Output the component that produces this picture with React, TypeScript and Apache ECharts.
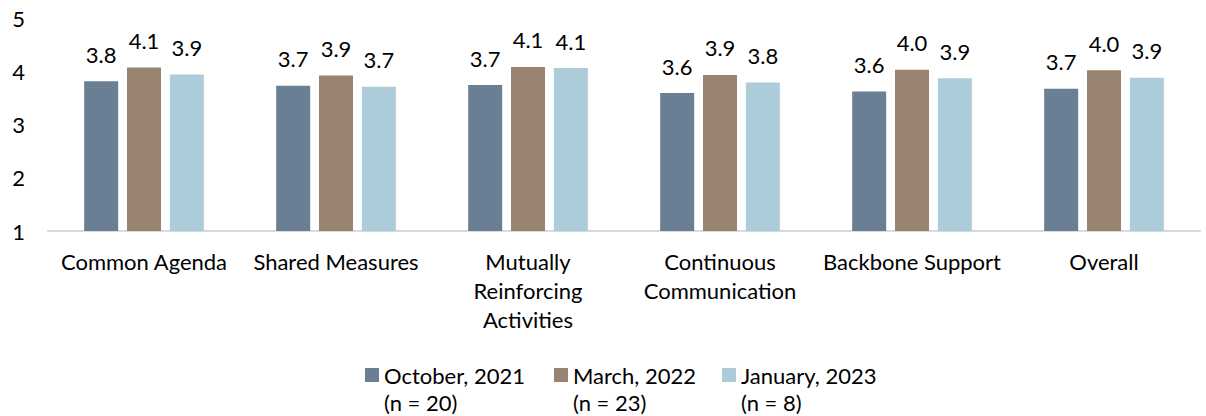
import React, { useEffect, useRef } from "react";
import * as echarts from "echarts";

const categories = [
  "Common Agenda",
  "Shared Measures",
  "Mutually\nReinforcing\nActivities",
  "Continuous\nCommunication",
  "Backbone Support",
  "Overall",
];
const seriesNames = ["October, 2021", "March, 2022", "January, 2023"];
const nLabels = ["(n = 20)", "(n = 23)", "(n = 8)"];
const oct2021 = [3.81, 3.73, 3.74, 3.59, 3.62, 3.67];
const mar2022 = [4.07, 3.92, 4.08, 3.93, 4.03, 4.02];
const jan2023 = [3.94, 3.71, 4.06, 3.79, 3.87, 3.88];
const yTicks = [1, 2, 3, 4, 5];
const colors = ["#6B7F94", "#998371", "#ADCCD9"];

const FONT = "Lato";
const FS = 22;
const legendLefts = [365, 554, 722];
const legendTop = 364;

export default function App() {
  const ref = useRef<HTMLDivElement>(null);
  useEffect(() => {
    if (!ref.current) return;
    const chart = echarts.init(ref.current, undefined, { renderer: "svg" });
    const values = [oct2021, mar2022, jan2023];
    chart.setOption({
      animation: false,
      textStyle: { fontFamily: FONT },
      grid: { left: 48, right: 6, top: 18, bottom: 185, containLabel: false },
      legend: seriesNames.map((name, i) => ({
        data: [name],
        left: legendLefts[i],
        top: legendTop,
        padding: 0,
        itemWidth: 14,
        itemHeight: 14,
        icon: "rect",
        textStyle: { fontFamily: FONT, fontSize: FS, color: "#000" },
      })),
      graphic: nLabels.map((t, i) => ({
        type: "text",
        left: legendLefts[i] + 19,
        top: 391,
        style: { text: t, fontFamily: FONT, fontSize: FS, fill: "#000" },
      })),
      xAxis: {
        type: "category",
        data: categories,
        axisLine: { lineStyle: { color: "#D9D9D9", width: 2 } },
        axisTick: { show: false },
        axisLabel: {
          interval: 0,
          fontFamily: FONT,
          fontSize: FS,
          color: "#000",
          lineHeight: 29,
          margin: 16,
        },
      },
      yAxis: {
        type: "value",
        min: yTicks[0],
        max: yTicks[yTicks.length - 1],
        interval: 1,
        axisLine: { show: false },
        axisTick: { show: false },
        splitLine: { show: false },
        axisLabel: {
          fontFamily: FONT,
          fontSize: FS,
          color: "#000",
          margin: 23,
        },
      },
      series: seriesNames.map((name, i) => ({
        name,
        type: "bar",
        data: values[i],
        barWidth: 34,
        barGap: "26%",
        itemStyle: { color: colors[i] },
        label: {
          show: true,
          position: "top",
          distance: 16,
          fontFamily: FONT,
          fontSize: FS,
          color: "#000",
          formatter: (p: any) => Number(p.value).toFixed(1),
        },
      })),
    });
    return () => chart.dispose();
  }, []);
  return (
    <div
      ref={ref}
      style={{ position: "absolute", left: 0, top: 0, width: 1206, height: 416 }}
    />
  );
}
